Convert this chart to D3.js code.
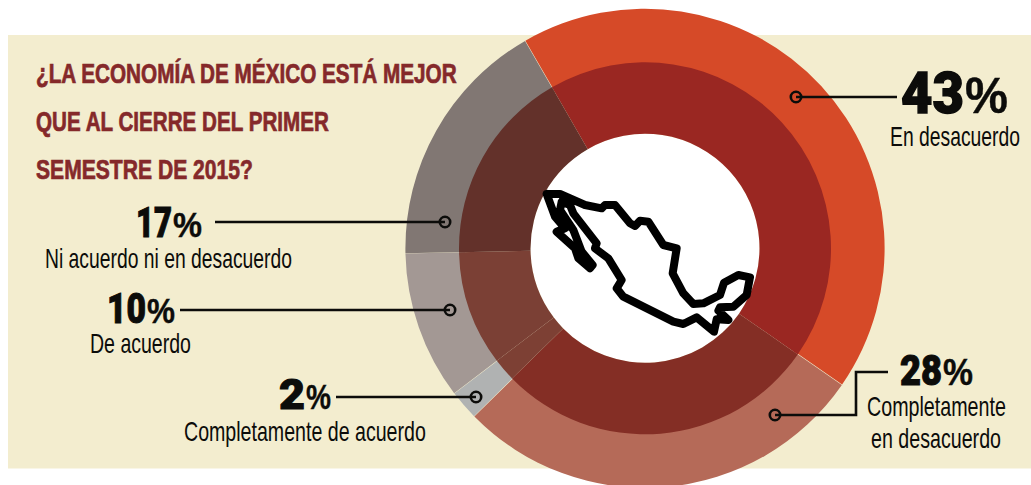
<!DOCTYPE html>
<html lang="es">
<head>
<meta charset="utf-8">
<script src="https://cdn.jsdelivr.net/npm/d3@7"></script>
<style>
html,body{margin:0;padding:0;background:#fff;overflow:hidden}
svg{display:block}
</style>
</head>
<body>
<script>
const categories = ["En desacuerdo","Completamente en desacuerdo","Completamente de acuerdo","De acuerdo","Ni acuerdo ni en desacuerdo"];
const values = [43,28,2,10,17];
const outerColors = ["#D64A28","#B56A58","#B0B2B2","#A39894","#817773"];
const innerColors = ["#9A2722","#842E25","#7D4034","#7B4035","#63312A"];
const titleLines = ["¿LA ECONOMÍA DE MÉXICO ESTÁ MEJOR","QUE AL CIERRE DEL PRIMER","SEMESTRE DE 2015?"];
const titleLayout = [[36,83,421],[36,131,293],[36,179,217]];

// Annotation layout, in the same order as categories
const labelLines = [["En desacuerdo"],["Completamente","en desacuerdo"],["Completamente de acuerdo"],["De acuerdo"],["Ni acuerdo ni en desacuerdo"]];
const numLayout = [
  {x:901,y:113,w:63,pw:43,h:58,ph:50},
  {x:900,y:385,w:42,pw:30,h:42,ph:36},
  {x:279,y:409,w:26,pw:25,h:42,ph:36},
  {x:107,y:323,w:39,pw:28,h:42,ph:36},
  {x:136,y:237,w:36,pw:29,h:42,ph:36}
];
const textLayout = [
  [{x:890,y:146,w:130}],
  [{x:867,y:416,w:139},{x:871,y:448,w:130}],
  [{x:184,y:441,w:242}],
  [{x:90,y:353,w:101}],
  [{x:45,y:268,w:247}]
];
const leaderPaths = [
  [[796,97],[897,97]],
  [[775,415],[856,415],[856,372],[888,372]],
  [[476,397],[336,397]],
  [[450,310],[180,310]],
  [[445,222],[215,222]]
];
// Silhouette of Mexico, in icon units
const mapOutline = [[80,42],[120,42],[195,75],[245,85],[255,75],[285,75],[330,130],[345,138],[360,122],[385,125],[430,195],[470,205],[458,280],[490,340],[520,372],[550,370],[600,345],[612,308],[655,285],[690,292],[680,345],[640,380],[600,382],[595,392],[625,420],[590,418],[582,455],[530,412],[490,432],[460,425],[310,350],[290,325],[305,300],[265,235],[225,205],[230,190],[160,100],[150,75],[125,65],[120,90],[160,150],[185,215],[218,255],[210,265],[175,235],[165,205],[110,155],[135,145],[105,110],[80,42]];

const W = 1031, H = 485;
const svg = d3.select("body").append("svg").attr("width",W).attr("height",H);
const ink = "#0c0c0a";
const cond = "'Liberation Sans Narrow','Liberation Sans',sans-serif";
const heavy = "Roboto,'Liberation Sans',sans-serif";

// Draws a text and squeezes it horizontally to the measured width
function fitted(str,x,y,w,font,size,weight,color,strokeW){
  const t = svg.append("text").attr("font-family",font).attr("font-size",size)
    .attr("font-weight",weight).attr("fill",color).text(str);
  if(strokeW) t.attr("stroke",color).attr("stroke-width",strokeW);
  const sx = w / t.node().getComputedTextLength();
  t.attr("transform",`translate(${x},${y}) scale(${sx},1)`);
  return t;
}

svg.append("rect").attr("x",8).attr("y",35).attr("width",W-8).attr("height",433.5).attr("fill","#F3EDCF");

const cx = 645, cy = 248.3;
const deg = Math.PI/180;
const basePie = d3.pie().sort(null).startAngle(-30*deg).endAngle(330*deg);
const outerArcs = basePie.padAngle(0.0015)(values);
const innerArcs = basePie.padAngle(0)(values);
const rings = svg.append("g").attr("transform",`translate(${cx},${cy})`);
const outerScale = d3.scaleOrdinal(categories,outerColors);
const innerScale = d3.scaleOrdinal(categories,innerColors);
const outerArc = d3.arc().innerRadius(180).outerRadius(239.6);
const innerArc = d3.arc().innerRadius(114.5).outerRadius(186);
rings.append("circle").attr("r",114.5).attr("fill","#fff");
rings.selectAll("path.o").data(outerArcs).join("path").attr("class","o")
  .attr("d",outerArc).attr("fill",(d,i)=>outerScale(categories[i]));
rings.selectAll("path.i").data(innerArcs).join("path").attr("class","i")
  .attr("d",innerArc).attr("fill",(d,i)=>innerScale(categories[i]));

// map icon
const mx = d3.scaleLinear().domain([0,720]).range([520,760]);
const my = d3.scaleLinear().domain([0,480]).range([180,340]);
svg.append("path")
  .attr("d",d3.line().x(d=>mx(d[0])).y(d=>my(d[1])).curve(d3.curveLinear)(mapOutline))
  .attr("fill","none").attr("stroke","#000").attr("stroke-width",8)
  .attr("stroke-linejoin","round").attr("stroke-linecap","round");

// title
titleLines.forEach((line,i)=>{
  const [x,y,w] = titleLayout[i];
  fitted(line,x,y,w,cond,27,700,"#85292A",0.7);
});

// leaders
const leaders = svg.append("g");
leaderPaths.forEach(p=>{
  leaders.append("path").attr("d",d3.line()(p)).attr("fill","none")
    .attr("stroke",ink).attr("stroke-width",2.6);
  leaders.append("circle").attr("cx",p[0][0]).attr("cy",p[0][1]).attr("r",5.2)
    .attr("fill","none").attr("stroke",ink).attr("stroke-width",2.6);
});

// numbers and labels
values.forEach((v,i)=>{
  const n = numLayout[i];
  fitted(String(v),n.x,n.y,n.w,heavy,n.h,900,ink,n.h*0.025);
  fitted("%",n.x+n.w+1,n.y,n.pw,cond,n.ph,700,ink,0.4);
  labelLines[i].forEach((t,j)=>{
    const l = textLayout[i][j];
    fitted(t,l.x,l.y,l.w,cond,27,400,ink,0);
  });
});
</script>
</body>
</html>
